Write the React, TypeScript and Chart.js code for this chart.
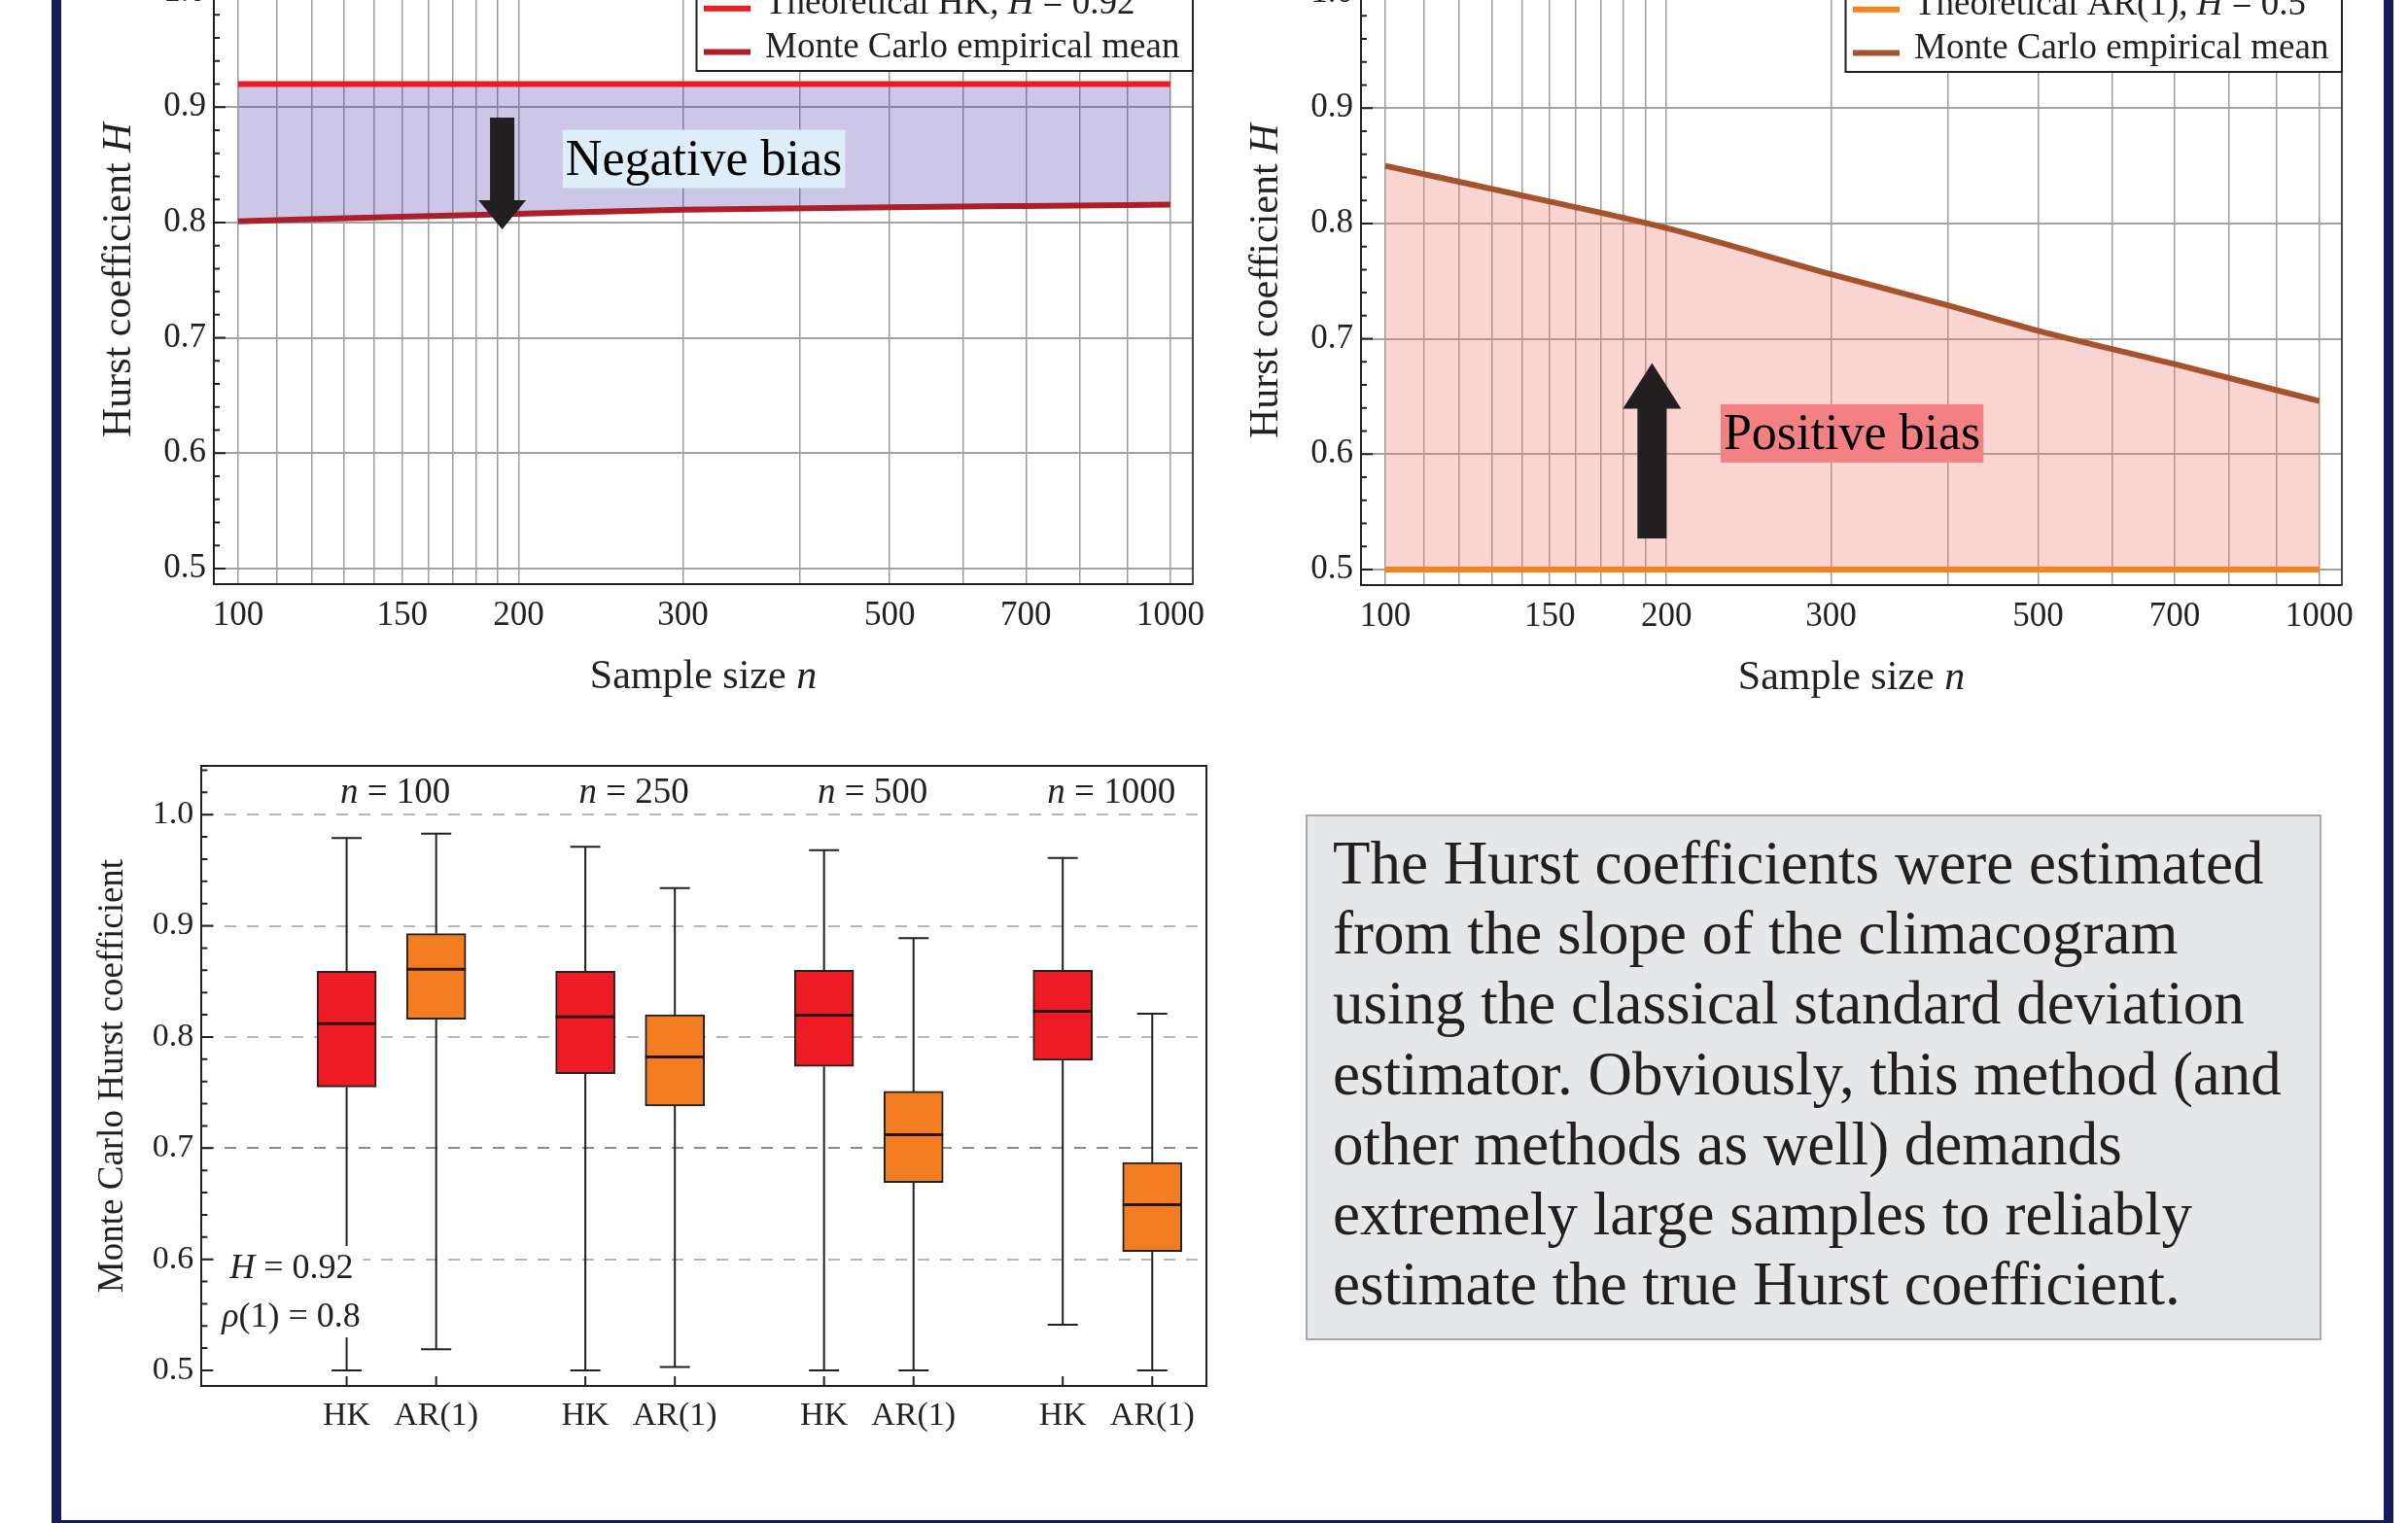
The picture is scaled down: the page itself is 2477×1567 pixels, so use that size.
import React, { useEffect, useRef } from 'react';
import { Chart, registerables } from 'chart.js';

Chart.register(...registerables);

const SERIF = "'Liberation Serif', 'Times New Roman', serif";
const INK = '#231f20';

// ---------- top panels: axes ----------
const N_GRID = [100, 110, 120, 130, 140, 150, 160, 170, 180, 190, 200, 300, 400, 500, 600, 700, 800, 900, 1000];
const N_LABELS = [100, 150, 200, 300, 500, 700, 1000];
const H_TICKS = [0.5, 0.6, 0.7, 0.8, 0.9, 1.0];

// ---------- top-left: HK process ----------
const HK_THEORY_N = [100, 1000];
const HK_THEORY_H = [0.92, 0.92];
const HK_MEAN_N = [100, 150, 200, 300, 500, 700, 1000];
const HK_MEAN_H = [0.801, 0.805, 0.8075, 0.811, 0.8131, 0.8143, 0.8155];
const HK_ARROW = [192, 0.891, 0.794]; // n, from H, to H
const HK_NOTE = [316, 0.855]; // n, H (label centre)

// ---------- top-right: AR(1) process ----------
const AR_THEORY_N = [100, 1000];
const AR_THEORY_H = [0.5, 0.5];
const AR_MEAN_N = [100, 150, 200, 300, 400, 500, 700, 1000];
const AR_MEAN_H = [0.85, 0.819, 0.796, 0.756, 0.729, 0.707, 0.678, 0.646];
const AR_ARROW = [193, 0.527, 0.679];
const AR_NOTE = [316, 0.618];

// ---------- bottom-left: box plots ----------
const BOX_N = [100, 250, 500, 1000];
const BOX_KINDS = ['HK', 'AR(1)'];
const BOX_H_TICKS = [0.5, 0.6, 0.7, 0.8, 0.9, 1.0];
const HK_MIN = [0.5, 0.5, 0.5, 0.541];
const HK_Q1 = [0.755, 0.767, 0.7735, 0.779];
const HK_MED = [0.812, 0.818, 0.8197, 0.823];
const HK_Q3 = [0.859, 0.859, 0.86, 0.86];
const HK_MAX = [0.979, 0.971, 0.968, 0.961];
const AR_MIN = [0.519, 0.503, 0.5, 0.5];
const AR_Q1 = [0.816, 0.738, 0.669, 0.607];
const AR_MED = [0.861, 0.782, 0.712, 0.649];
const AR_Q3 = [0.893, 0.82, 0.751, 0.687];
const AR_MAX = [0.983, 0.934, 0.889, 0.821];

const NOTE_LINES = [
  'The Hurst coefficients were estimated',
  'from the slope of the climacogram',
  'using the classical standard deviation',
  'estimator. Obviously, this method (and',
  'other methods as well) demands',
  'extremely large samples to reliably',
  'estimate the true Hurst coefficient.',
];

// ---------- helpers ----------
type Seg = { t: string; i?: boolean };
const segFont = (size: number, italic?: boolean) => `${italic ? 'italic ' : ''}${size}px ${SERIF}`;

function drawSegs(ctx: CanvasRenderingContext2D, segs: Seg[], x: number, y: number, size: number, align: 'left' | 'center') {
  let total = 0;
  for (const s of segs) {
    ctx.font = segFont(size, s.i);
    total += ctx.measureText(s.t).width;
  }
  let cx = align === 'center' ? x - total / 2 : x;
  ctx.textAlign = 'left';
  for (const s of segs) {
    ctx.font = segFont(size, s.i);
    ctx.fillText(s.t, cx, y);
    cx += ctx.measureText(s.t).width;
  }
}

function yMinorTicks(ctx: CanvasRenderingContext2D, a: any, ys: any, from: number, to: number) {
  ctx.strokeStyle = INK;
  ctx.lineWidth = 2;
  ctx.beginPath();
  for (let k = Math.round(from * 50); k <= Math.round(to * 50); k++) {
    const v = k / 50;
    if (v < ys.min || v > ys.max) continue;
    const py = ys.getPixelForValue(v);
    const len = k % 5 === 0 ? 12 : 6;
    ctx.moveTo(a.left, py);
    ctx.lineTo(a.left + len, py);
  }
  ctx.stroke();
}

function topConfig(o: any) {
  const decor = {
    id: 'topDecor',
    afterDatasetsDraw(chart: any) {
      const { ctx, scales } = chart;
      const xs = scales.x;
      const ys = scales.y;
      ctx.save();
      // bias label
      const nx = xs.getPixelForValue(o.note[0]);
      const ny = ys.getPixelForValue(o.note[1]);
      ctx.font = segFont(52);
      const tw = ctx.measureText(o.noteText).width;
      ctx.fillStyle = o.noteBg;
      ctx.fillRect(nx - tw / 2 - 3, ny - 30, tw + 6, 60);
      ctx.fillStyle = '#000';
      ctx.textAlign = 'center';
      ctx.textBaseline = 'alphabetic';
      ctx.fillText(o.noteText, nx, ny + 16);
      // arrow
      const ax = xs.getPixelForValue(o.arrow[0]);
      const y0 = ys.getPixelForValue(o.arrow[1]);
      const y1 = ys.getPixelForValue(o.arrow[2]);
      const [shaft, headW, headL] = o.arrowDims;
      const dir = Math.sign(y1 - y0);
      const yb = y1 - dir * headL;
      ctx.fillStyle = INK;
      ctx.beginPath();
      ctx.moveTo(ax - shaft / 2, y0);
      ctx.lineTo(ax + shaft / 2, y0);
      ctx.lineTo(ax + shaft / 2, yb);
      ctx.lineTo(ax + headW / 2, yb);
      ctx.lineTo(ax, y1);
      ctx.lineTo(ax - headW / 2, yb);
      ctx.lineTo(ax - shaft / 2, yb);
      ctx.closePath();
      ctx.fill();
      ctx.restore();
    },
    afterDraw(chart: any) {
      const { ctx, chartArea: a, scales } = chart;
      const ys = scales.y;
      ctx.save();
      // frame right/top
      ctx.strokeStyle = '#4a4a4a';
      ctx.lineWidth = 2;
      ctx.beginPath();
      ctx.moveTo(a.left, a.top);
      ctx.lineTo(a.right, a.top);
      ctx.lineTo(a.right, a.bottom);
      ctx.stroke();
      yMinorTicks(ctx, a, ys, 0.5, 1.0);
      // legend
      const right = a.right;
      const left = right - 510.5;
      const top = a.top - 10;
      const bottom = a.top + 97.5;
      ctx.fillStyle = '#fff';
      ctx.fillRect(left, top, right - left, bottom - top);
      ctx.strokeStyle = INK;
      ctx.lineWidth = 2;
      ctx.strokeRect(left, top, right - left, bottom - top);
      ctx.textBaseline = 'alphabetic';
      chart.data.datasets.forEach((ds: any, i: number) => {
        const base = a.top + 38.3 + i * 44.8;
        ctx.strokeStyle = ds.borderColor;
        ctx.lineWidth = 6;
        ctx.beginPath();
        ctx.moveTo(left + 7.5, base - 5);
        ctx.lineTo(left + 55.5, base - 5);
        ctx.stroke();
        ctx.fillStyle = INK;
        drawSegs(ctx, o.legend[i], left + 70.5, base, 37, 'left');
      });
      // axis titles
      ctx.fillStyle = INK;
      ctx.textBaseline = 'middle';
      drawSegs(ctx, [{ t: 'Sample size ' }, { t: 'n', i: true }], (a.left + a.right) / 2, a.bottom + 96, 42, 'center');
      ctx.translate(a.left - 97, (a.top + a.bottom) / 2);
      ctx.rotate(-Math.PI / 2);
      drawSegs(ctx, [{ t: 'Hurst coefficient ' }, { t: 'H', i: true }], 0, 0, 42, 'center');
      ctx.restore();
    },
  };

  return {
    type: 'line',
    data: {
      datasets: [
        {
          label: 'theory',
          data: o.theoryN.map((n: number, i: number) => ({ x: n, y: o.theoryH[i] })),
          borderColor: o.theoryColor,
          borderWidth: 6,
          pointRadius: 0,
          fill: false,
        },
        {
          label: 'mean',
          data: o.meanN.map((n: number, i: number) => ({ x: n, y: o.meanH[i] })),
          borderColor: o.meanColor,
          borderWidth: 6,
          pointRadius: 0,
          cubicInterpolationMode: 'monotone',
          fill: '-1',
          backgroundColor: o.fillColor,
        },
      ],
    },
    options: {
      animation: false,
      responsive: false,
      devicePixelRatio: 1,
      events: [],
      layout: { padding: { left: 0, right: 40, top: 40.5, bottom: 0 } },
      plugins: { legend: { display: false }, tooltip: { enabled: false } },
      scales: {
        x: {
          type: 'logarithmic',
          min: 94.2,
          max: 1057,
          afterBuildTicks: (ax: any) => {
            ax.ticks = N_GRID.map((v) => ({ value: v }));
          },
          afterFit: (ax: any) => {
            ax.height = 120;
          },
          ticks: {
            autoSkip: false,
            maxRotation: 0,
            minRotation: 0,
            padding: 12,
            color: INK,
            font: { family: SERIF, size: 35 },
            callback: (v: any) => (N_LABELS.includes(Number(v)) ? String(v) : ''),
          },
          grid: { color: '#9c9c9c', lineWidth: 1.5, drawTicks: false },
          border: { color: INK, width: 2 },
        },
        y: {
          type: 'linear',
          min: 0.4865,
          max: 1.0135,
          afterBuildTicks: (ax: any) => {
            ax.ticks = H_TICKS.map((v) => ({ value: v }));
          },
          afterFit: (ax: any) => {
            ax.width = 156;
          },
          ticks: {
            padding: 8,
            color: INK,
            font: { family: SERIF, size: 35 },
            callback: (v: any) => Number(v).toFixed(1),
          },
          grid: { color: '#a2a2a2', lineWidth: 2, drawTicks: false },
          border: { color: INK, width: 2 },
        },
      },
    },
    plugins: [decor],
  };
}

const BOX_OFFSET = 0.375;
const boxPos = (g: number, k: number) => g + 1 + k * BOX_OFFSET;
const BOX_SERIES = [
  { min: HK_MIN, q1: HK_Q1, med: HK_MED, q3: HK_Q3, max: HK_MAX, color: '#ed1c24' },
  { min: AR_MIN, q1: AR_Q1, med: AR_MED, q3: AR_Q3, max: AR_MAX, color: '#f37e21' },
];

function boxConfig() {
  const decor = {
    id: 'boxDecor',
    beforeDatasetsDraw(chart: any) {
      const { ctx, scales } = chart;
      const xs = scales.x;
      const ys = scales.y;
      ctx.save();
      ctx.strokeStyle = INK;
      ctx.lineWidth = 2;
      BOX_SERIES.forEach((s, k) => {
        BOX_N.forEach((_, g) => {
          const px = xs.getPixelForValue(boxPos(g, k));
          const pMax = ys.getPixelForValue(s.max[g]);
          const pQ3 = ys.getPixelForValue(s.q3[g]);
          const pQ1 = ys.getPixelForValue(s.q1[g]);
          const pMin = ys.getPixelForValue(s.min[g]);
          ctx.beginPath();
          ctx.moveTo(px, pMax);
          ctx.lineTo(px, pQ3);
          ctx.moveTo(px, pQ1);
          ctx.lineTo(px, pMin);
          ctx.moveTo(px - 15.5, pMax);
          ctx.lineTo(px + 15.5, pMax);
          ctx.moveTo(px - 15.5, pMin);
          ctx.lineTo(px + 15.5, pMin);
          ctx.stroke();
        });
      });
      ctx.restore();
    },
    afterDatasetsDraw(chart: any) {
      const { ctx, scales } = chart;
      const xs = scales.x;
      const ys = scales.y;
      ctx.save();
      ctx.strokeStyle = '#2b1414';
      ctx.lineWidth = 3;
      BOX_SERIES.forEach((s, k) => {
        BOX_N.forEach((_, g) => {
          const px = xs.getPixelForValue(boxPos(g, k));
          const pm = ys.getPixelForValue(s.med[g]);
          ctx.beginPath();
          ctx.moveTo(px - 30.5, pm);
          ctx.lineTo(px + 30.5, pm);
          ctx.stroke();
        });
      });
      ctx.restore();
    },
    afterDraw(chart: any) {
      const { ctx, chartArea: a, scales } = chart;
      const xs = scales.x;
      const ys = scales.y;
      ctx.save();
      ctx.strokeStyle = INK;
      ctx.lineWidth = 2;
      ctx.beginPath();
      ctx.moveTo(a.left, a.top);
      ctx.lineTo(a.right, a.top);
      ctx.lineTo(a.right, a.bottom);
      ctx.stroke();
      // white panel behind the parameter annotation
      ctx.fillStyle = '#fff';
      ctx.fillRect(a.left + 14, a.top + 494, 152, 94);
      yMinorTicks(ctx, a, ys, 0.5, 1.04);
      // bottom ticks
      ctx.strokeStyle = INK;
      ctx.lineWidth = 2;
      ctx.beginPath();
      BOX_N.forEach((_, g) => {
        [0, 1].forEach((k) => {
          const px = xs.getPixelForValue(boxPos(g, k));
          ctx.moveTo(px, a.bottom);
          ctx.lineTo(px, a.bottom - 10);
        });
      });
      ctx.stroke();
      ctx.fillStyle = INK;
      ctx.textBaseline = 'middle';
      BOX_N.forEach((n, g) => {
        const cx = (xs.getPixelForValue(boxPos(g, 0)) + xs.getPixelForValue(boxPos(g, 1))) / 2;
        drawSegs(ctx, [{ t: 'n', i: true }, { t: ` = ${n}` }], cx + 4, a.top + 28, 37, 'center');
      });
      drawSegs(ctx, [{ t: 'H', i: true }, { t: ' = 0.92' }], a.left + 29, a.top + 518, 36, 'left');
      drawSegs(ctx, [{ t: 'ρ', i: true }, { t: '(1) = 0.8' }], a.left + 21, a.top + 568, 36, 'left');
      ctx.translate(a.left - 91, (a.top + a.bottom) / 2);
      ctx.rotate(-Math.PI / 2);
      drawSegs(ctx, [{ t: 'Monte Carlo Hurst coefficient' }], 0, 0, 37, 'center');
      ctx.restore();
    },
  };

  const isNear = (v: number, t: number) => Math.abs(v - t) < 1e-6;

  return {
    type: 'bar',
    data: {
      datasets: BOX_SERIES.map((s, k) => ({
        label: BOX_KINDS[k],
        data: BOX_N.map((_, g) => ({ x: boxPos(g, k), y: [s.q1[g], s.q3[g]] })),
        backgroundColor: s.color,
        borderColor: INK,
        borderWidth: 2,
        borderSkipped: false,
        barThickness: 61,
        grouped: false,
      })),
    },
    options: {
      animation: false,
      responsive: false,
      devicePixelRatio: 1,
      events: [],
      layout: { padding: { left: 0, right: 40, top: 40, bottom: 0 } },
      plugins: { legend: { display: false }, tooltip: { enabled: false } },
      scales: {
        x: {
          type: 'linear',
          min: 0.392,
          max: 4.602,
          offset: false,
          afterBuildTicks: (ax: any) => {
            const t: any[] = [];
            BOX_N.forEach((_, g) => {
              t.push({ value: boxPos(g, 0) });
              t.push({ value: boxPos(g, 1) });
            });
            ax.ticks = t;
          },
          afterFit: (ax: any) => {
            ax.height = 100;
          },
          ticks: {
            autoSkip: false,
            maxRotation: 0,
            minRotation: 0,
            padding: 11,
            color: INK,
            font: { family: SERIF, size: 34 },
            callback: (_v: any, i: number) => BOX_KINDS[i % 2],
          },
          grid: { display: false, drawTicks: false, offset: false },
          border: { color: INK, width: 2 },
        },
        y: {
          type: 'linear',
          min: 0.486,
          max: 1.0439,
          beginAtZero: false,
          afterBuildTicks: (ax: any) => {
            ax.ticks = BOX_H_TICKS.map((v) => ({ value: v }));
          },
          afterFit: (ax: any) => {
            ax.width = 143.3;
          },
          ticks: {
            padding: 8,
            color: INK,
            font: { family: SERIF, size: 34 },
            callback: (v: any) => Number(v).toFixed(1),
          },
          grid: {
            drawTicks: false,
            lineWidth: 2,
            color: (c: any) =>
              isNear(c.tick.value, 0.5) ? 'rgba(0,0,0,0)' : isNear(c.tick.value, 0.7) ? '#8a8a8a' : '#b6b6b6',
          },
          border: { color: INK, width: 2, dash: [12, 11] },
        },
      },
    },
    plugins: [decor],
  };
}

function ChartCanvas({ make, left, top, width, height }: any) {
  const ref = useRef<HTMLCanvasElement>(null);
  useEffect(() => {
    const chart = new Chart(ref.current as HTMLCanvasElement, make());
    return () => chart.destroy();
  }, []);
  return (
    <canvas
      ref={ref}
      width={width}
      height={height}
      style={{ position: 'absolute', left, top, width, height }}
    />
  );
}

const makeHK = () =>
  topConfig({
    theoryN: HK_THEORY_N,
    theoryH: HK_THEORY_H,
    meanN: HK_MEAN_N,
    meanH: HK_MEAN_H,
    theoryColor: '#ed1c24',
    meanColor: '#ab1e2a',
    fillColor: 'rgba(80,60,170,0.286)',
    legend: [
      [{ t: 'Theoretical HK, ' }, { t: 'H', i: true }, { t: ' = 0.92' }],
      [{ t: 'Monte Carlo empirical mean' }],
    ],
    arrow: HK_ARROW,
    arrowDims: [25, 49, 30],
    note: HK_NOTE,
    noteText: 'Negative bias',
    noteBg: '#ddeef9',
  });

const makeAR = () =>
  topConfig({
    theoryN: AR_THEORY_N,
    theoryH: AR_THEORY_H,
    meanN: AR_MEAN_N,
    meanH: AR_MEAN_H,
    theoryColor: '#f58220',
    meanColor: '#a4532c',
    fillColor: 'rgba(240,126,117,0.333)',
    legend: [
      [{ t: 'Theoretical AR(1), ' }, { t: 'H', i: true }, { t: ' = 0.5' }],
      [{ t: 'Monte Carlo empirical mean' }],
    ],
    arrow: AR_ARROW,
    arrowDims: [30, 60, 47],
    note: AR_NOTE,
    noteText: 'Positive bias',
    noteBg: '#f38184',
  });

export default function App() {
  const navy = '#151b5c';
  return (
    <div
      style={{
        position: 'absolute',
        left: 0,
        top: 0,
        width: 2477,
        height: 1567,
        overflow: 'hidden',
        background: '#fff',
      }}
    >
      <ChartCanvas make={makeHK} left={64} top={-65} width={1203} height={786} />
      <ChartCanvas make={makeAR} left={1244} top={-64} width={1205} height={786} />
      <ChartCanvas make={boxConfig} left={64} top={748} width={1217} height={778} />
      <div
        style={{
          position: 'absolute',
          left: 1343,
          top: 838,
          width: 1045,
          height: 541,
          boxSizing: 'border-box',
          background: '#e6e7e8',
          border: '2px solid #a7a9ac',
          padding: '12px 0 0 26px',
          fontFamily: SERIF,
          fontSize: 63,
          lineHeight: '72.2px',
          color: INK,
        }}
      >
        {NOTE_LINES.map((l) => (
          <div key={l} style={{ whiteSpace: 'nowrap' }}>
            {l}
          </div>
        ))}
      </div>
      <div style={{ position: 'absolute', left: 53, top: 0, width: 10, height: 1567, background: navy }} />
      <div style={{ position: 'absolute', left: 2452, top: 0, width: 10, height: 1567, background: navy }} />
      <div style={{ position: 'absolute', left: 53, top: 1564, width: 2409, height: 3, background: navy }} />
    </div>
  );
}
